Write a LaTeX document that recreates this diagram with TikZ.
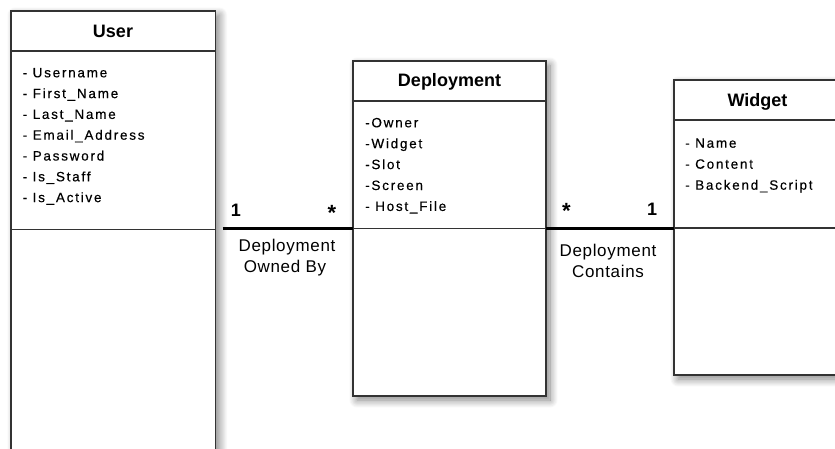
\documentclass[tikz,border=0pt]{standalone}
\usepackage{fontspec}
\setmainfont{Liberation Sans}
\newfontfamily\attrfont[LetterSpace=13,FakeBold=0.4]{Liberation Sans}
\newfontfamily\linkfont[LetterSpace=4]{Liberation Sans}
\usetikzlibrary{shadows.blur}

\tikzset{
  classbox/.style={draw=black!80, line width=1.3pt, fill=white, rectangle,
    anchor=north west, inner sep=0pt, outer sep=0pt,
    blur shadow={shadow xshift=4pt, shadow yshift=-4pt, shadow blur radius=8pt,
      shadow blur steps=14, shadow opacity=50}},
  divider/.style={draw=black!80, line width=1.3pt},
  classname/.style={anchor=base, inner sep=0pt, font=\fontsize{18}{18}\selectfont\bfseries},
  attr/.style={anchor=base west, inner sep=0pt, font=\attrfont\fontsize{13.5}{13.5}\selectfont},
  assoc/.style={draw=black, line width=2.5pt},
  mult/.style={anchor=base, inner sep=0pt, font=\fontsize{18}{18}\selectfont\bfseries},
  star/.style={mult, font=\fontsize{22}{22}\selectfont\bfseries},
  linklabel/.style={anchor=base, inner sep=0pt, font=\linkfont\fontsize{17}{17}\selectfont},
}

\begin{document}
\begin{tikzpicture}[x=1pt,y=-1pt]
\useasboundingbox (0,0) rectangle (835,448);
\clip (0,0) rectangle (835,448);

% class boxes
\node[classbox, minimum width=204.5pt, minimum height=480pt] (user) at (11,11) {};
\node[classbox, minimum width=193pt, minimum height=335pt] (dep) at (353,61) {};
\node[classbox, minimum width=170pt, minimum height=295pt] (widget) at (674,80) {};

% compartment split points
\coordinate (user-head) at (11,51);
\coordinate (user-split) at (11,229.5);
\coordinate (dep-head) at (353,101);
\coordinate (dep-split) at (353,228.5);
\coordinate (widget-head) at (674,120);
\coordinate (widget-split) at (674,228);

\draw[divider] (user-head) -- (user-head -| user.east);
\draw[divider] (user-split) -- (user-split -| user.east);
\draw[divider] (dep-head) -- (dep-head -| dep.east);
\draw[divider] (dep-split) -- (dep-split -| dep.east);
\draw[divider] (widget-head) -- (widget-head -| widget.east);
\draw[divider] (widget-split) -- (widget-split -| widget.east);

% associations
\draw[assoc] (dep-split -| user.east) ++(7,0) -- (dep-split);
\draw[assoc] (dep-split -| dep.east) -- (dep-split -| widget.west);

% class names
\node[classname] (user-name) at (113,37.3) {User};
\node[classname] (dep-name) at (449.5,86.7) {Deployment};
\node[classname] (widget-name) at (757.5,106.7) {Widget};

% attributes
\foreach \t [count=\i] in {- Username, - First\_Name, - Last\_Name, - Email\_Address,
    - Password, - Is\_Staff, - Is\_Active}
  \node[attr] (user-a\i) at (22.5,{77.3+20.8*(\i-1)}) {\t};
\foreach \t [count=\i] in {-Owner, -Widget, -Slot, -Screen, - Host\_File}
  \node[attr] (dep-a\i) at (365,{127.3+20.9*(\i-1)}) {\t};
\foreach \t [count=\i] in {- Name, - Content, - Backend\_Script}
  \node[attr] (widget-a\i) at (685,{147.7+21*(\i-1)}) {\t};

% multiplicities and association names
\node[mult] (m-user) at (236,216.5) {1};
\node[star] (m-dep1) at (332,220) {*};
\node[star] (m-dep2) at (566.5,218) {*};
\node[mult] (m-widget) at (652,215.5) {1};

\node[linklabel] (owned1) at (287,251) {Deployment};
\node[linklabel] (owned2) at (285,272.3) {Owned By};
\node[linklabel] (contains1) at (608,256) {Deployment};
\node[linklabel] (contains2) at (608,277.3) {Contains};
\end{tikzpicture}
\end{document}
